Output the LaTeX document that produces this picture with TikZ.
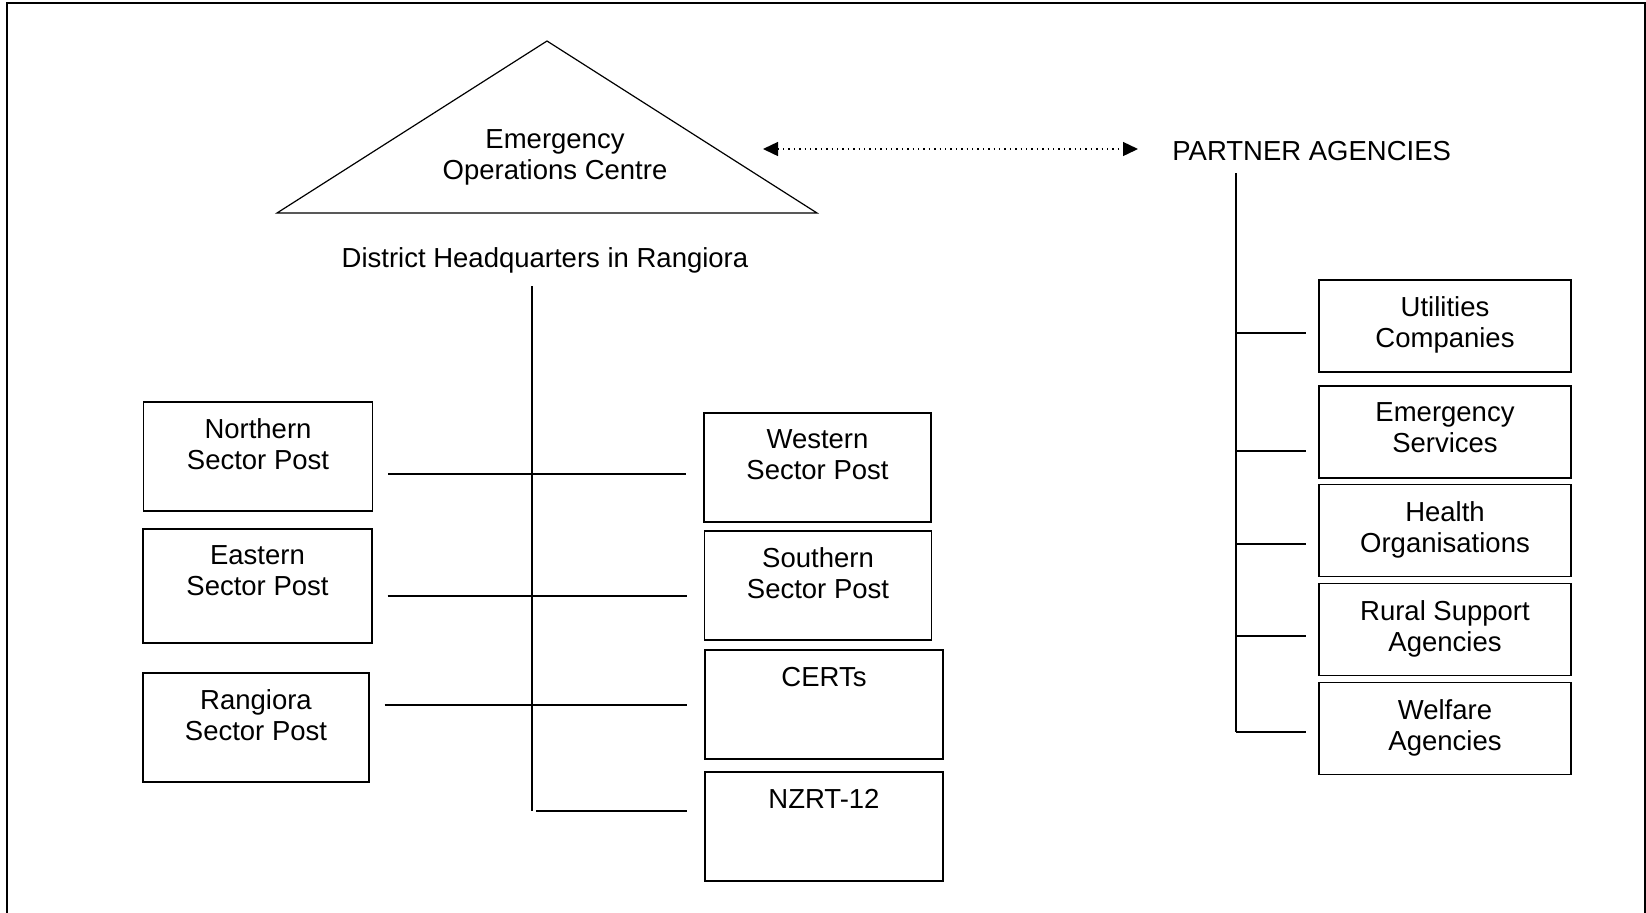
\documentclass[tikz,border=0pt]{standalone}
\usepackage{fontspec}
\setmainfont{Liberation Sans}
\usetikzlibrary{arrows.meta}
\tikzset{
  >={Triangle[length=7.5pt,width=7pt]},
  txt/.style={font=\fontsize{13.75}{15.5}\selectfont,align=center,inner sep=0pt},
  ln/.style={line width=0.6pt},
  post/.style={draw,line width=0.6pt,inner sep=0pt,
    label={[txt,anchor=north,yshift=-8.6pt]north:{#1}}},
  lpost/.style={post={#1},minimum width=114.5pt,minimum height=54.5pt},
  mpost/.style={post={#1},minimum width=113.5pt,minimum height=54.5pt},
  rpost/.style={post={#1},minimum width=126pt,minimum height=46pt},
}
\begin{document}
\begin{tikzpicture}[x=0.5pt,y=-0.5pt]
\useasboundingbox (0,0) rectangle (1646,912);
\draw[line width=1pt] (7,915) -- (7,3) -- (1645,3) -- (1645,915);
% headquarters
\coordinate (apex) at (547,41);
\coordinate (baseL) at (277,213);
\coordinate (baseR) at (817,213);
\draw[ln] (apex) -- (baseR) -- (baseL) -- cycle;
\node[txt] (eoc) at (555,157) {Emergency\\Operations Centre};
\node[txt] (dhq) at (545,260) {District Headquarters in Rangiora};
\node[txt,anchor=west] (partner) at (1172,151) {PARTNER AGENCIES};
\coordinate (arrL) at (763,149);
\draw[<->,dotted,line width=0.7pt,shorten >=17pt] (arrL) -- (arrL -| partner.west);
% sector posts
\node[lpost={Northern\\Sector Post}] (north) at (258,456.5) {};
\node[lpost={Eastern\\Sector Post},minimum height=57pt] (east) at (257.5,586) {};
\node[lpost={Rangiora\\Sector Post},minimum width=113pt] (rang) at (256,727.5) {};
\node[mpost={Western\\Sector Post}] (west) at (817.5,467.5) {};
\node[mpost={Southern\\Sector Post}] (south) at (818,585.5) {};
\node[mpost={CERTs},minimum width=119pt] (certs) at (824,704.5) {};
\node[mpost={NZRT-12},minimum width=119pt] (nzrt) at (824,826.5) {};
\coordinate (trunkT) at (532,286);
\coordinate (trunkB) at (532,811);
\draw[ln] (trunkT) -- (trunkB);
\foreach \a/\b/\y in {north/west/474,east/south/596,rang/certs/705}{
  \coordinate (j\a) at (532,\y);
  \draw[ln,shorten <=7.5pt,shorten >=8.5pt] (\a.east |- j\a) -- (\b.west |- j\a);
}
\draw[ln,shorten <=2pt,shorten >=8.5pt] (trunkB) -- (nzrt.west |- trunkB);
% partner agencies
\node[rpost={Utilities\\Companies}] (util) at (1445,326) {};
\node[rpost={Emergency\\Services}] (emer) at (1445,432) {};
\node[rpost={Health\\Organisations}] (health) at (1445,530.5) {};
\node[rpost={Rural Support\\Agencies}] (rural) at (1445,629.5) {};
\node[rpost={Welfare\\Agencies}] (welf) at (1445,728.5) {};
\coordinate (rtrunkT) at (1236,173);
\coordinate (rtrunkB) at (1236,732);
\draw[ln] (rtrunkT) -- (rtrunkB);
\foreach \n/\y in {util/333,emer/451,health/544,rural/636,welf/732}{
  \coordinate (j\n) at (1236,\y);
  \draw[ln,shorten >=6pt] (j\n) -- (\n.west |- j\n);
}
\end{tikzpicture}
\end{document}
